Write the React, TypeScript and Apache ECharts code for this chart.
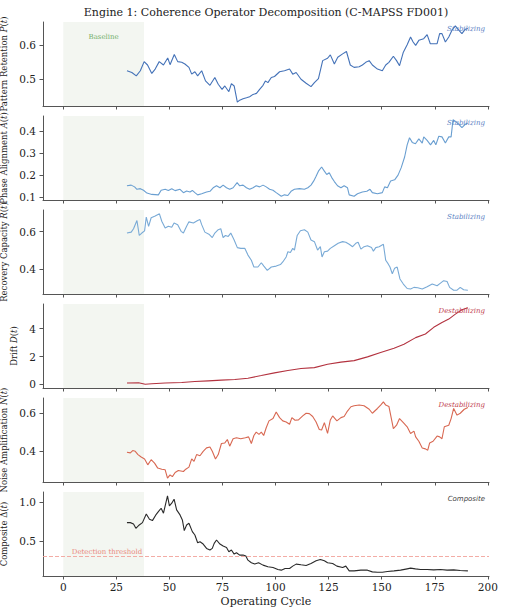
import React, { useEffect, useRef } from "react";
import * as echarts from "echarts";

// ---- Data (cycle, value) per coherence component ----
const retentionCycles = [30.0, 32.3, 34.4, 36.3, 38.1, 39.7, 41.7, 43.3, 45.2, 47.2, 49.2, 50.3, 52.3, 53.9, 55.8, 57.3, 59.2, 60.5, 62.0, 63.3, 65.2, 67.0, 69.1, 71.4, 73.0, 74.8, 76.1, 78.0, 79.2, 80.5, 82.0, 83.1, 84.7, 86.3, 87.8, 89.4, 91.0, 92.5, 94.1, 95.2, 96.4, 98.0, 99.5, 101.9, 104.2, 106.6, 108.1, 109.7, 112.0, 114.4, 116.7, 118.3, 120.2, 122.2, 124.5, 125.8, 127.7, 129.3, 131.6, 133.4, 135.2, 137.0, 139.4, 140.9, 142.5, 144.1, 145.6, 148.0, 150.3, 151.9, 153.4, 155.5, 157.0, 158.4, 160.2, 162.0, 163.6, 164.8, 166.0, 167.5, 169.8, 171.4, 172.9, 174.5, 176.1, 177.3, 178.4, 180.0, 181.6, 183.1, 184.7, 186.3, 187.8, 189.4, 190.6];
const retentionValues = [0.524, 0.519, 0.509, 0.524, 0.551, 0.541, 0.516, 0.529, 0.551, 0.541, 0.562, 0.542, 0.572, 0.551, 0.549, 0.544, 0.534, 0.514, 0.521, 0.509, 0.524, 0.494, 0.481, 0.504, 0.484, 0.469, 0.479, 0.462, 0.486, 0.479, 0.431, 0.437, 0.441, 0.444, 0.447, 0.454, 0.457, 0.469, 0.481, 0.494, 0.489, 0.504, 0.507, 0.521, 0.524, 0.529, 0.514, 0.519, 0.499, 0.487, 0.477, 0.489, 0.501, 0.554, 0.561, 0.571, 0.544, 0.564, 0.574, 0.581, 0.541, 0.534, 0.536, 0.541, 0.549, 0.554, 0.541, 0.529, 0.524, 0.541, 0.549, 0.567, 0.554, 0.539, 0.579, 0.601, 0.624, 0.609, 0.599, 0.614, 0.619, 0.631, 0.604, 0.604, 0.604, 0.634, 0.634, 0.609, 0.624, 0.644, 0.657, 0.644, 0.634, 0.647, 0.649];

const alignmentCycles = [30.0, 32.0, 33.6, 34.7, 36.3, 37.8, 39.4, 41.7, 44.8, 46.1, 48.0, 49.5, 51.1, 52.7, 55.0, 56.6, 58.1, 59.7, 60.8, 62.0, 63.3, 65.2, 67.5, 69.1, 70.6, 72.2, 73.8, 75.3, 76.9, 78.4, 80.0, 81.9, 83.1, 84.7, 86.3, 87.8, 89.4, 90.9, 92.5, 94.1, 95.6, 97.2, 98.8, 100.3, 102.7, 104.2, 105.8, 107.3, 108.9, 111.3, 113.6, 115.2, 116.7, 118.0, 119.1, 120.2, 121.7, 123.0, 124.1, 125.3, 126.4, 127.7, 129.2, 130.8, 132.3, 133.9, 134.7, 137.0, 138.6, 140.9, 143.0, 144.5, 145.6, 148.0, 150.3, 151.4, 152.7, 154.2, 156.1, 157.7, 159.2, 160.8, 162.0, 163.1, 164.4, 165.9, 167.5, 169.1, 169.8, 171.4, 173.0, 174.5, 175.5, 176.9, 178.4, 180.0, 181.6, 182.7, 183.6, 185.2, 186.3, 187.8, 189.4, 190.6];
const alignmentValues = [0.152, 0.155, 0.147, 0.136, 0.139, 0.132, 0.119, 0.113, 0.111, 0.132, 0.136, 0.131, 0.139, 0.130, 0.136, 0.121, 0.128, 0.124, 0.131, 0.121, 0.111, 0.116, 0.124, 0.127, 0.143, 0.152, 0.143, 0.155, 0.143, 0.136, 0.143, 0.166, 0.152, 0.155, 0.143, 0.136, 0.143, 0.152, 0.147, 0.155, 0.147, 0.136, 0.132, 0.121, 0.105, 0.111, 0.108, 0.127, 0.136, 0.139, 0.136, 0.143, 0.155, 0.174, 0.195, 0.218, 0.237, 0.218, 0.203, 0.211, 0.190, 0.171, 0.152, 0.143, 0.152, 0.143, 0.111, 0.105, 0.116, 0.124, 0.127, 0.136, 0.121, 0.116, 0.121, 0.147, 0.143, 0.174, 0.179, 0.200, 0.234, 0.282, 0.337, 0.369, 0.348, 0.342, 0.364, 0.345, 0.373, 0.357, 0.337, 0.357, 0.337, 0.376, 0.373, 0.345, 0.373, 0.373, 0.450, 0.440, 0.430, 0.415, 0.430, 0.436];

const recoveryCycles = [30.0, 32.0, 33.1, 34.7, 35.8, 37.0, 38.3, 39.1, 40.2, 41.4, 43.3, 45.3, 46.4, 48.0, 49.5, 51.1, 52.2, 53.9, 55.5, 56.6, 58.1, 59.2, 61.3, 63.3, 64.4, 65.2, 66.7, 68.6, 70.2, 71.4, 73.0, 74.2, 75.3, 76.4, 77.7, 78.9, 80.5, 82.0, 83.6, 85.5, 87.0, 88.6, 89.8, 91.7, 93.3, 94.5, 96.1, 98.0, 100.3, 102.3, 103.4, 105.0, 105.8, 107.0, 108.1, 108.9, 110.2, 111.7, 113.6, 115.2, 116.7, 118.3, 119.8, 121.1, 121.9, 123.0, 124.5, 125.8, 127.7, 129.5, 131.6, 133.1, 134.7, 136.3, 137.8, 138.9, 140.2, 141.7, 143.3, 145.2, 146.1, 147.2, 148.8, 150.8, 151.9, 153.0, 153.9, 155.0, 156.1, 157.3, 158.6, 160.2, 162.0, 163.6, 165.2, 167.0, 169.1, 171.4, 173.8, 176.1, 177.7, 179.2, 180.8, 182.0, 183.9, 185.5, 187.0, 188.6, 190.6];
const recoveryValues = [0.593, 0.598, 0.616, 0.660, 0.580, 0.593, 0.605, 0.678, 0.629, 0.675, 0.684, 0.696, 0.656, 0.620, 0.629, 0.624, 0.647, 0.638, 0.602, 0.593, 0.629, 0.653, 0.647, 0.660, 0.665, 0.638, 0.598, 0.587, 0.569, 0.593, 0.611, 0.616, 0.569, 0.580, 0.575, 0.593, 0.556, 0.515, 0.511, 0.511, 0.475, 0.447, 0.411, 0.411, 0.434, 0.416, 0.393, 0.411, 0.416, 0.424, 0.438, 0.465, 0.493, 0.489, 0.511, 0.502, 0.580, 0.605, 0.611, 0.598, 0.556, 0.547, 0.502, 0.520, 0.465, 0.493, 0.496, 0.511, 0.525, 0.538, 0.547, 0.544, 0.533, 0.520, 0.538, 0.544, 0.507, 0.520, 0.525, 0.515, 0.496, 0.515, 0.520, 0.533, 0.447, 0.429, 0.411, 0.375, 0.405, 0.411, 0.347, 0.320, 0.296, 0.293, 0.302, 0.300, 0.293, 0.305, 0.320, 0.311, 0.325, 0.338, 0.333, 0.302, 0.287, 0.287, 0.302, 0.289, 0.287];

const driftCycles = [30.0, 35.5, 38.6, 41.7, 48.0, 55.8, 62.0, 68.3, 74.5, 80.8, 87.0, 93.3, 99.5, 105.8, 112.0, 118.3, 124.5, 130.8, 137.0, 143.3, 149.5, 155.8, 160.5, 166.0, 170.6, 174.5, 178.4, 181.6, 184.7, 187.8, 190.6];
const driftValues = [0.10, 0.12, 0.02, 0.05, 0.10, 0.14, 0.21, 0.26, 0.31, 0.36, 0.45, 0.64, 0.83, 1.00, 1.14, 1.21, 1.45, 1.60, 1.71, 1.98, 2.29, 2.60, 2.88, 3.36, 3.62, 4.10, 4.45, 4.69, 5.05, 5.36, 5.50];

const noiseCycles = [30.0, 31.6, 32.7, 33.9, 35.2, 36.7, 38.3, 39.8, 41.4, 43.0, 44.5, 46.4, 48.0, 49.1, 50.3, 51.4, 52.7, 54.2, 56.6, 57.7, 59.2, 60.5, 61.6, 62.8, 64.4, 65.9, 67.5, 69.1, 70.2, 71.7, 73.0, 74.5, 76.1, 77.3, 78.4, 80.0, 81.6, 83.6, 85.8, 87.3, 88.6, 89.8, 90.9, 92.2, 93.3, 94.4, 95.6, 96.9, 98.8, 100.3, 101.9, 103.4, 105.0, 106.6, 107.7, 109.2, 110.8, 112.8, 114.4, 115.9, 117.5, 119.1, 120.6, 121.7, 123.0, 124.5, 125.8, 126.9, 128.9, 130.8, 132.3, 133.6, 135.5, 137.0, 139.4, 141.7, 144.1, 145.6, 148.0, 149.5, 150.8, 151.9, 153.4, 155.5, 157.0, 158.4, 160.2, 162.0, 163.6, 165.2, 166.0, 167.5, 169.1, 170.6, 171.7, 172.6, 174.2, 176.1, 177.3, 178.4, 179.5, 181.6, 182.7, 183.9, 185.5, 187.0, 188.9, 190.6];
const noiseValues = [0.393, 0.390, 0.402, 0.398, 0.381, 0.368, 0.358, 0.327, 0.354, 0.336, 0.310, 0.304, 0.301, 0.257, 0.274, 0.265, 0.287, 0.297, 0.292, 0.304, 0.315, 0.358, 0.345, 0.381, 0.375, 0.398, 0.416, 0.421, 0.398, 0.358, 0.381, 0.439, 0.442, 0.460, 0.425, 0.464, 0.469, 0.464, 0.469, 0.474, 0.439, 0.481, 0.499, 0.487, 0.499, 0.481, 0.522, 0.558, 0.570, 0.605, 0.575, 0.558, 0.552, 0.540, 0.575, 0.561, 0.563, 0.584, 0.598, 0.596, 0.581, 0.552, 0.513, 0.510, 0.549, 0.492, 0.563, 0.584, 0.558, 0.575, 0.581, 0.605, 0.632, 0.637, 0.641, 0.637, 0.619, 0.598, 0.623, 0.641, 0.658, 0.641, 0.634, 0.517, 0.535, 0.570, 0.549, 0.527, 0.492, 0.504, 0.474, 0.451, 0.416, 0.411, 0.404, 0.442, 0.451, 0.478, 0.474, 0.464, 0.527, 0.535, 0.570, 0.623, 0.588, 0.598, 0.619, 0.628];

const compositeCycles = [30.0, 31.6, 33.1, 34.2, 35.8, 37.3, 39.1, 40.6, 42.0, 43.6, 44.8, 46.1, 47.2, 48.0, 49.1, 50.0, 51.1, 52.2, 53.4, 55.0, 56.1, 57.0, 58.1, 59.2, 60.8, 62.0, 63.3, 64.4, 65.9, 67.5, 69.1, 70.2, 71.1, 72.2, 73.8, 75.3, 76.9, 78.0, 79.2, 80.5, 81.6, 83.1, 84.7, 86.0, 87.0, 88.6, 90.2, 92.0, 94.1, 96.4, 98.8, 101.1, 102.7, 104.5, 106.6, 108.1, 109.7, 112.0, 114.4, 116.7, 119.1, 121.1, 123.0, 124.5, 126.9, 128.9, 131.6, 133.1, 134.7, 137.0, 140.2, 143.3, 145.6, 148.0, 150.3, 152.7, 155.8, 158.9, 162.0, 163.6, 165.9, 168.3, 171.4, 174.5, 177.7, 180.8, 183.9, 187.0, 190.6];
const compositeValues = [0.737, 0.737, 0.720, 0.664, 0.707, 0.737, 0.849, 0.780, 0.763, 0.836, 0.879, 0.922, 0.858, 0.953, 1.082, 0.953, 0.987, 1.039, 0.901, 0.836, 0.772, 0.634, 0.707, 0.728, 0.621, 0.578, 0.478, 0.491, 0.461, 0.405, 0.384, 0.405, 0.470, 0.513, 0.461, 0.435, 0.418, 0.362, 0.384, 0.332, 0.349, 0.319, 0.319, 0.306, 0.254, 0.220, 0.203, 0.220, 0.190, 0.168, 0.159, 0.134, 0.125, 0.147, 0.147, 0.177, 0.203, 0.194, 0.185, 0.211, 0.246, 0.263, 0.246, 0.220, 0.211, 0.177, 0.159, 0.177, 0.116, 0.116, 0.125, 0.125, 0.103, 0.099, 0.099, 0.108, 0.116, 0.125, 0.142, 0.151, 0.142, 0.134, 0.134, 0.129, 0.134, 0.125, 0.129, 0.121, 0.116];

const cycleTicks = [0, 25, 50, 75, 100, 125, 150, 175, 200];
const baselineWindow = [0, 38];
const detectionThreshold = 0.3;

const retentionTicks = [0.5, 0.6];
const alignmentTicks = [0.1, 0.2, 0.3, 0.4];
const recoveryTicks = [0.4, 0.6];
const driftTicks = [0, 2, 4];
const noiseTicks = [0.4, 0.6];
const compositeTicks = [0.5, 1.0];

const SERIF = "DejaVu Serif";
const SANS = "DejaVu Sans";
const INK = "#222222";
const SPINE = "#555555";

type Panel = {
  name: string;
  cycles: number[];
  values: number[];
  ticks: number[];
  digits: number;
  color: string;
  tag: string;
  tagColor: string;
  tagFont: string;
  nameGap: number;
};

const panels: Panel[] = [
  { name: "Pattern Retention {i|P}({i|t})", cycles: retentionCycles, values: retentionValues, ticks: retentionTicks, digits: 1, color: "#4472b8", tag: "Stabilizing", tagColor: "#5a82c4", tagFont: SERIF, nameGap: 27 },
  { name: "Phase Alignment {i|A}({i|t})", cycles: alignmentCycles, values: alignmentValues, ticks: alignmentTicks, digits: 1, color: "#6a9fd1", tag: "Stabilizing", tagColor: "#5a82c4", tagFont: SERIF, nameGap: 27 },
  { name: "Recovery Capacity {i|R}({i|t})", cycles: recoveryCycles, values: recoveryValues, ticks: recoveryTicks, digits: 1, color: "#79aad6", tag: "Stabilizing", tagColor: "#5a82c4", tagFont: SERIF, nameGap: 27 },
  { name: "Drift {i|D}({i|t})", cycles: driftCycles, values: driftValues, ticks: driftTicks, digits: 0, color: "#b3323f", tag: "Destabilizing", tagColor: "#c0404e", tagFont: SERIF, nameGap: 16 },
  { name: "Noise Amplification {i|N}({i|t})", cycles: noiseCycles, values: noiseValues, ticks: noiseTicks, digits: 1, color: "#d86852", tag: "Destabilizing", tagColor: "#c0404e", tagFont: SERIF, nameGap: 27 },
  { name: "Composite Δ({i|t})", cycles: compositeCycles, values: compositeValues, ticks: compositeTicks, digits: 1, color: "#2a2a2a", tag: "Composite", tagColor: "#444444", tagFont: SANS, nameGap: 27 },
];

const GRID_LEFT = 43;
const GRID_WIDTH = 446;
const GRID_HEIGHT = 84;
const GRID_TOPS = [22, 116, 210, 304, 398, 492];
const X_MIN = -9.55;
const X_MAX = 200.55;

function buildOption() {
  const grids: any[] = [];
  const xAxes: any[] = [];
  const yAxes: any[] = [];
  const series: any[] = [];
  const graphics: any[] = [];

  panels.forEach((p, i) => {
    const lo = Math.min(...p.values);
    const hi = Math.max(...p.values);
    const pad = (hi - lo) * 0.05;
    const last = i === panels.length - 1;

    grids.push({
      left: GRID_LEFT,
      top: GRID_TOPS[i],
      width: GRID_WIDTH,
      height: GRID_HEIGHT,
      containLabel: false,
      outerBoundsMode: "none",
    });

    xAxes.push({
      type: "value",
      gridIndex: i,
      min: X_MIN,
      max: X_MAX,
      axisLine: { show: true, onZero: false, lineStyle: { color: SPINE, width: 1 } },
      axisTick: { show: true, length: 3.5, customValues: cycleTicks, lineStyle: { color: SPINE, width: 1 } },
      axisLabel: {
        show: last,
        customValues: cycleTicks,
        margin: 5,
        fontFamily: SERIF,
        fontSize: 10.5,
        color: INK,
      },
      splitLine: { show: false },
      name: last ? "Operating Cycle" : "",
      nameLocation: "middle",
      nameGap: 20,
      nameTextStyle: { fontFamily: SERIF, fontSize: 11, color: INK },
    });

    yAxes.push({
      type: "value",
      gridIndex: i,
      min: lo - pad,
      max: hi + pad,
      axisLine: { show: true, onZero: false, lineStyle: { color: SPINE, width: 1 } },
      axisTick: { show: true, length: 3.5, customValues: p.ticks, lineStyle: { color: SPINE, width: 1 } },
      axisLabel: {
        customValues: p.ticks,
        margin: 7,
        fontFamily: SERIF,
        fontSize: 10.5,
        color: INK,
        formatter: (v: number) => v.toFixed(p.digits),
      },
      splitLine: { show: false },
      name: p.name,
      nameLocation: "middle",
      nameRotate: 90,
      nameGap: p.nameGap,
      nameTextStyle: {
        fontFamily: SERIF,
        fontSize: 8.5,
        color: INK,
        rich: { i: { fontFamily: SERIF, fontStyle: "italic", fontSize: 8.5, color: INK } },
      },
    });

    const s: any = {
      type: "line",
      xAxisIndex: i,
      yAxisIndex: i,
      data: p.cycles.map((c, k) => [c, p.values[k]]),
      showSymbol: false,
      symbol: "none",
      lineStyle: { color: p.color, width: 1.1 },
      silent: true,
      z: 3,
      markArea: {
        silent: true,
        itemStyle: { color: "#f3f6f1" },
        label: i === 0
          ? { show: true, position: "insideTop", distance: 11, formatter: "Baseline", fontFamily: SERIF, fontSize: 7, color: "#74b06c" }
          : { show: false },
        data: [[{ xAxis: baselineWindow[0] }, { xAxis: baselineWindow[1] }]],
      },
    };

    if (last) {
      s.markLine = {
        silent: true,
        symbol: ["none", "none"],
        label: { show: false },
        lineStyle: { color: "#f2a39b", width: 0.9, type: [4, 2] },
        data: [{ yAxis: detectionThreshold }],
      };
      s.markPoint = {
        silent: true,
        symbol: "circle",
        symbolSize: 0,
        label: {
          show: true,
          position: [0, -8],
          formatter: "Detection threshold",
          fontFamily: SERIF,
          fontSize: 7,
          color: "#e98a80",
        },
        data: [{ coord: [4, detectionThreshold] }],
      };
    }
    series.push(s);

    graphics.push({
      type: "text",
      right: 20,
      top: GRID_TOPS[i] + 3,
      style: {
        text: p.tag,
        fontFamily: p.tagFont,
        fontStyle: "italic",
        fontSize: 7,
        fill: p.tagColor,
      },
      z: 10,
    });
  });

  graphics.push({
    type: "text",
    x: GRID_LEFT + GRID_WIDTH / 2,
    y: 12,
    style: {
      text: "Engine 1: Coherence Operator Decomposition (C-MAPSS FD001)",
      fontFamily: SERIF,
      fontSize: 11,
      fill: INK,
      textAlign: "center",
      textVerticalAlign: "middle",
    },
  });

  return {
    animation: false,
    backgroundColor: "#ffffff",
    grid: grids,
    xAxis: xAxes,
    yAxis: yAxes,
    series,
    graphic: graphics,
  };
}

export default function App() {
  const ref = useRef<HTMLDivElement>(null);

  useEffect(() => {
    if (!ref.current) return;
    const chart = echarts.init(ref.current, undefined, { renderer: "svg" });
    chart.setOption(buildOption() as any);
    return () => chart.dispose();
  }, []);

  return (
    <div
      ref={ref}
      style={{ position: "absolute", left: 0, top: 0, width: 505, height: 615, background: "#fff" }}
    />
  );
}
